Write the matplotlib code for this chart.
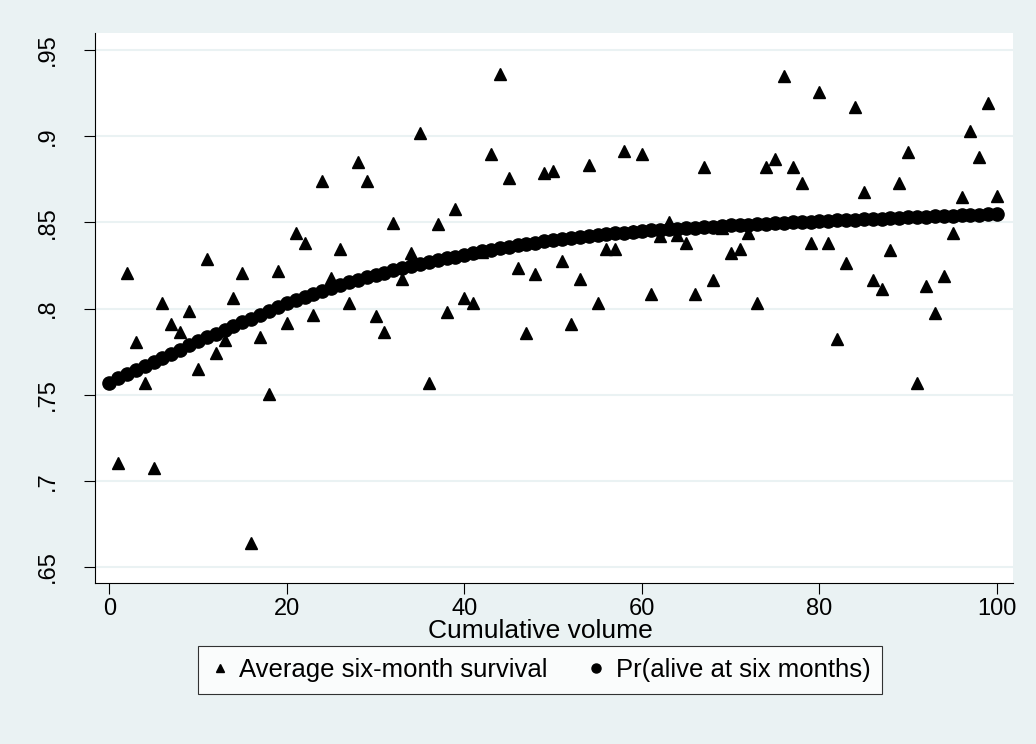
"""
Recreate the Stata-style scatter of six-month survival against cumulative volume.
"""

import matplotlib
matplotlib.use("Agg")
import matplotlib.pyplot as plt
from matplotlib.lines import Line2D

plt.rcParams["font.family"] = ["Liberation Sans", "DejaVu Sans"]

# observed average survival, volume 1..100
volume_obs = list(range(1, 101))
avg_survival = [
    0.7105, 0.8208, 0.7807, 0.7565, 0.7072, 0.8030, 0.7908, 0.7865, 0.7987, 0.7647,
    0.8287, 0.7743, 0.7817, 0.8059, 0.8208, 0.6637, 0.7836, 0.7503, 0.8219, 0.7917,
    0.8436, 0.8378, 0.7962, 0.8740, 0.8175, 0.8343, 0.8033, 0.8852, 0.8741, 0.7958,
    0.7865, 0.8494, 0.8170, 0.8320, 0.9016, 0.7565, 0.8488, 0.7981, 0.8577, 0.8059,
    0.8030, 0.8330, 0.8896, 0.9359, 0.8755, 0.8233, 0.7856, 0.8200, 0.8788, 0.8800,
    0.8274, 0.7908, 0.8169, 0.8833, 0.8033, 0.8343, 0.8343, 0.8914, 0.8450, 0.8896,
    0.8084, 0.8420, 0.8500, 0.8426, 0.8382, 0.8082, 0.8823, 0.8165, 0.8470, 0.8320,
    0.8343, 0.8436, 0.8033, 0.8823, 0.8866, 0.9349, 0.8823, 0.8726, 0.8382, 0.9258,
    0.8382, 0.7821, 0.8266, 0.9171, 0.8674, 0.8165, 0.8111, 0.8339, 0.8726, 0.8910,
    0.7569, 0.8132, 0.7975, 0.8188, 0.8436, 0.8649, 0.9032, 0.8881, 0.9194, 0.8654,
]

# predicted probability, volume 0..100
volume_pred = list(range(0, 101))
pr_alive = [
    0.7570, 0.7594, 0.7618, 0.7642, 0.7666, 0.7690, 0.7714, 0.7738, 0.7762, 0.7786,
    0.7810, 0.7832, 0.7854, 0.7876, 0.7898, 0.7920, 0.7942, 0.7964, 0.7986, 0.8008,
    0.8030, 0.8049, 0.8067, 0.8085, 0.8102, 0.8119, 0.8135, 0.8151, 0.8166, 0.8181,
    0.8195, 0.8209, 0.8222, 0.8235, 0.8247, 0.8259, 0.8270, 0.8281, 0.8291, 0.8301,
    0.8311, 0.8321, 0.8331, 0.8340, 0.8349, 0.8358, 0.8366, 0.8374, 0.8382, 0.8389,
    0.8396, 0.8403, 0.8409, 0.8415, 0.8421, 0.8426, 0.8431, 0.8436, 0.8441, 0.8445,
    0.8449, 0.8453, 0.8457, 0.8460, 0.8463, 0.8466, 0.8469, 0.8472, 0.8475, 0.8478,
    0.8482, 0.8485, 0.8487, 0.8490, 0.8492, 0.8495, 0.8497, 0.8500, 0.8502, 0.8505,
    0.8507, 0.8509, 0.8511, 0.8514, 0.8516, 0.8518, 0.8520, 0.8522, 0.8525, 0.8527,
    0.8529, 0.8531, 0.8533, 0.8535, 0.8537, 0.8539, 0.8541, 0.8543, 0.8545, 0.8547,
    0.8550,
]

y_ticks = [0.65, 0.70, 0.75, 0.80, 0.85, 0.90, 0.95]
y_ticklabels = [".65", ".7", ".75", ".8", ".85", ".9", ".95"]
x_ticks = [0, 20, 40, 60, 80, 100]

BG = "#eaf2f3"

fig = plt.figure(figsize=(10.36, 7.44), dpi=100)
fig.patch.set_facecolor(BG)
ax = fig.add_axes([95 / 1036, 1 - 583 / 744, (1013 - 95) / 1036, (583 - 33) / 744])
ax.set_facecolor("white")

ax.plot(volume_obs, avg_survival, linestyle="none", marker="^", markersize=8,
        color="black", zorder=3)
ax.plot(volume_pred, pr_alive, linestyle="none", marker="o", markersize=9.5,
        color="black", zorder=4)

ax.set_xlim(-1.6, 101.8)
ax.set_ylim(0.6407, 0.9599)
ax.set_xticks(x_ticks)
ax.set_yticks(y_ticks)
ax.set_yticklabels(y_ticklabels, rotation=90, va="center")
ax.grid(axis="y", color=BG, linewidth=1.5)
ax.set_axisbelow(True)

for side in ["top", "right"]:
    ax.spines[side].set_visible(False)
for side in ["left", "bottom"]:
    ax.spines[side].set_linewidth(0.8)

ax.tick_params(axis="x", length=8, width=0.8, pad=3, labelsize=17)
ax.tick_params(axis="y", length=8, width=0.8, pad=18, labelsize=17)
ax.set_xlabel("Cumulative volume", fontsize=19, labelpad=0)
ax.xaxis.set_label_coords((540 - 95) / 918, -0.066, transform=ax.transAxes)
ax.xaxis.label.set_verticalalignment("top")

handles = [
    Line2D([], [], linestyle="none", marker="^", markersize=5.5, color="black"),
    Line2D([], [], linestyle="none", marker="o", markersize=6.5, color="black"),
]
leg = fig.legend(handles, ["Average six-month survival", "Pr(alive at six months)"],
                 loc="center", bbox_to_anchor=(540 / 1036, 1 - 670 / 744), ncol=2,
                 fontsize=18.5, frameon=True, fancybox=False, handlelength=0.8,
                 handletextpad=0.35, columnspacing=1.5, borderpad=0.45)
leg.get_frame().set_edgecolor("black")
leg.get_frame().set_linewidth(0.8)
leg.get_frame().set_facecolor("white")

fig.savefig("out.png", dpi=100, facecolor=BG)
